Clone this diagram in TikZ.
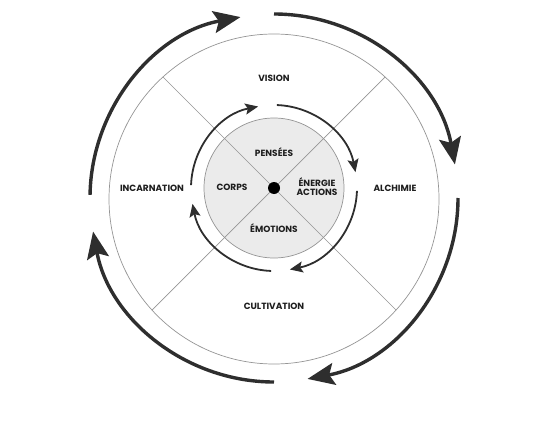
\documentclass[tikz,border=0pt]{standalone}
\usepackage{fontspec}
\setmainfont{Poppins}
\usetikzlibrary{arrows.meta,calc}
\definecolor{ink}{HTML}{2E2E2E}
\definecolor{ringgray}{HTML}{959595}
\definecolor{disk}{HTML}{EBEBEB}
\definecolor{txt}{HTML}{1E1E1E}
\begin{document}
\begin{tikzpicture}[x=1pt,y=1pt,
  lbl/.style={font=\fontsize{9}{8.8}\selectfont\bfseries, text=txt, inner sep=0pt, align=center},
  bigarrow/.style={draw=ink, line width=3.4pt, -{Stealth[length=27pt,width=22pt,inset=5pt]}},
  smallarrow/.style={draw=ink, line width=1.8pt, -{Stealth[length=13pt,width=11pt,inset=2.5pt]}},
  thin/.style={draw=ringgray, line width=0.7pt}
]
\useasboundingbox (0,0) rectangle (548,432);
\coordinate (oc) at (274,233);
\coordinate (ac) at (274,234);
\coordinate (ic) at (274,244);

\node[circle, thin, minimum size=330pt, inner sep=0pt] (outer) at (oc) {};
\node[circle, thin, fill=disk, minimum size=140pt, inner sep=0pt] (inner) at (ic) {};
\begin{scope}
  \clip (oc) circle (165);
  \draw[thin] ($(ic)+(-300,-300)$) -- ($(ic)+(300,300)$);
  \draw[thin] ($(ic)+(-300,300)$) -- ($(ic)+(300,-300)$);
\end{scope}
\node[circle, fill=black, minimum size=12pt, inner sep=0pt] (dot) at (ic) {};

% outer cycle arrows
\draw[bigarrow] ([shift={(179:184)}]ac) arc[start angle=179, end angle=100.5, radius=184];
\draw[bigarrow] ([shift={(90:184)}]ac) arc[start angle=90, end angle=10.5, radius=184];
\draw[bigarrow] ([shift={(0:184)}]ac) arc[start angle=0, end angle=-79.5, radius=184];
\draw[bigarrow] ([shift={(-90:184)}]ac) arc[start angle=-90, end angle=-169.5, radius=184];

% inner cycle arrows
\draw[smallarrow] ([shift={(178:83)}]ic) arc[start angle=178, end angle=101, radius=83];
\draw[smallarrow] ([shift={(88:83)}]ic) arc[start angle=88, end angle=11, radius=83];
\draw[smallarrow] ([shift={(-2:83)}]ic) arc[start angle=-2, end angle=-79, radius=83];
\draw[smallarrow] ([shift={(-92:83)}]ic) arc[start angle=-92, end angle=-169, radius=83];

% labels
\node[lbl] (vision) at (274,354) {VISION};
\node[lbl] (incarnation) at (152,244) {INCARNATION};
\node[lbl] (alchimie) at (395,244) {ALCHIMIE};
\node[lbl] (cultivation) at (274,126) {CULTIVATION};
\node[lbl] (pensees) at (274,280) {PENSÉES};
\node[lbl] (corps) at (232,245) {CORPS};
\node[lbl] (energie) at (317,245) {ÉNERGIE\\ACTIONS};
\node[lbl] (emotions) at (274,204) {ÉMOTIONS};
\end{tikzpicture}
\end{document}
